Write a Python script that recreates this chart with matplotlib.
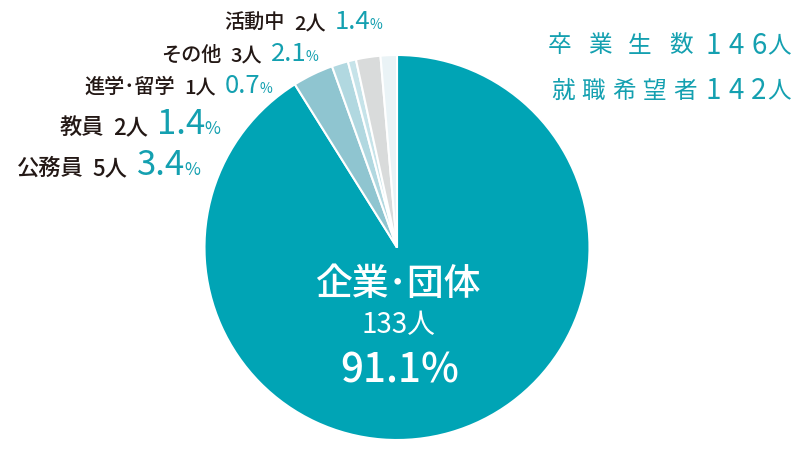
import matplotlib
matplotlib.use('Agg')
import matplotlib.pyplot as plt

plt.rcParams['font.family'] = ['Noto Sans CJK JP', 'DejaVu Sans']
plt.rcParams['font.weight'] = 'medium'

# data
labels = ['企業・団体', '公務員', '教員', '進学・留学', 'その他', '活動中']
counts = [133, 5, 2, 1, 3, 2]
pcts = ['91.1', '3.4', '1.4', '0.7', '2.1', '1.4']
colors = ['#00a4b5', '#8fc5d0', '#b1d8e0', '#c6e3e9', '#d9dbdb', '#eaf3f6']
total_grad = 146
total_hope = 142

W, H = 800, 450
TEAL = '#14a0b0'
DARK = '#231815'

fig = plt.figure(figsize=(8, 4.5), dpi=100)
cx, cy, r = 397, 247.5, 192.5
ax = fig.add_axes([(cx - r) / W, (H - cy - r) / H, 2 * r / W, 2 * r / H])
ax.pie(counts, colors=colors, startangle=90, counterclock=False,
       wedgeprops=dict(edgecolor='white', linewidth=1.5))
ax.set_xlim(-1, 1)
ax.set_ylim(-1, 1)
ax.axis('off')


def px(x, y):
    return x / W, 1 - y / H


def narrow(s):
    # the original uses a half width middle dot
    return s.replace('・', '･')


renderer = fig.canvas.get_renderer()


def put(x, y, s, size, color, weight='medium'):
    t = fig.text(*px(x, y), s, ha='right', va='baseline',
                 color=color, fontsize=size, fontweight=weight)
    return x - t.get_window_extent(renderer).width


def row(x_right, y_base, name, n, pct, big):
    # built right to left: "%", number, count, then label
    s_pct, s_sign, s_name = (25, 12.5, 16) if big else (18.5, 10, 14.5)
    x = put(x_right, y_base, '%', s_sign, TEAL, 'normal') + 1
    x = put(x, y_base, pct, s_pct, TEAL, 'normal') - 9
    x = put(x, y_base, f'{n}人', s_name, DARK) - 9
    put(x, y_base, narrow(name), s_name, DARK)


# left side labels (small slices)
row(382, 29, labels[5], counts[5], pcts[5], False)
row(318, 61, labels[4], counts[4], pcts[4], False)
row(272, 93, labels[3], counts[3], pcts[3], False)
row(220, 134, labels[2], counts[2], pcts[2], True)
row(200, 175, labels[1], counts[1], pcts[1], True)

# inside the big slice
fig.text(*px(398, 284), narrow(labels[0]), ha='center', va='center',
         color='white', fontsize=26.5)
fig.text(*px(398, 325), f'{counts[0]}人', ha='center', va='center',
         color='white', fontsize=20, fontweight='normal')
fig.text(*px(400, 371), f'{pcts[0]}%', ha='center', va='center',
         color='white', fontsize=29)


def spaced(chars, xs, y, sizes):
    for c, x, s in zip(chars, xs, sizes):
        fig.text(*px(x, y), c, ha='center', va='center',
                 color=TEAL, fontsize=s, fontweight='normal')


# totals at the top right
tail1 = list(str(total_grad)) + ['人']
tail2 = list(str(total_hope)) + ['人']
tail_x = [713, 736, 759, 779]
tail_s = [20, 20, 20, 17]
spaced(list('卒業生数') + tail1, [560, 600, 640, 681] + tail_x, 46,
       [17] * 4 + tail_s)
spaced(list('就職希望者') + tail2, [563, 593, 624, 654, 685] + tail_x, 91,
       [17] * 5 + tail_s)

fig.savefig('out.png', dpi=100)
